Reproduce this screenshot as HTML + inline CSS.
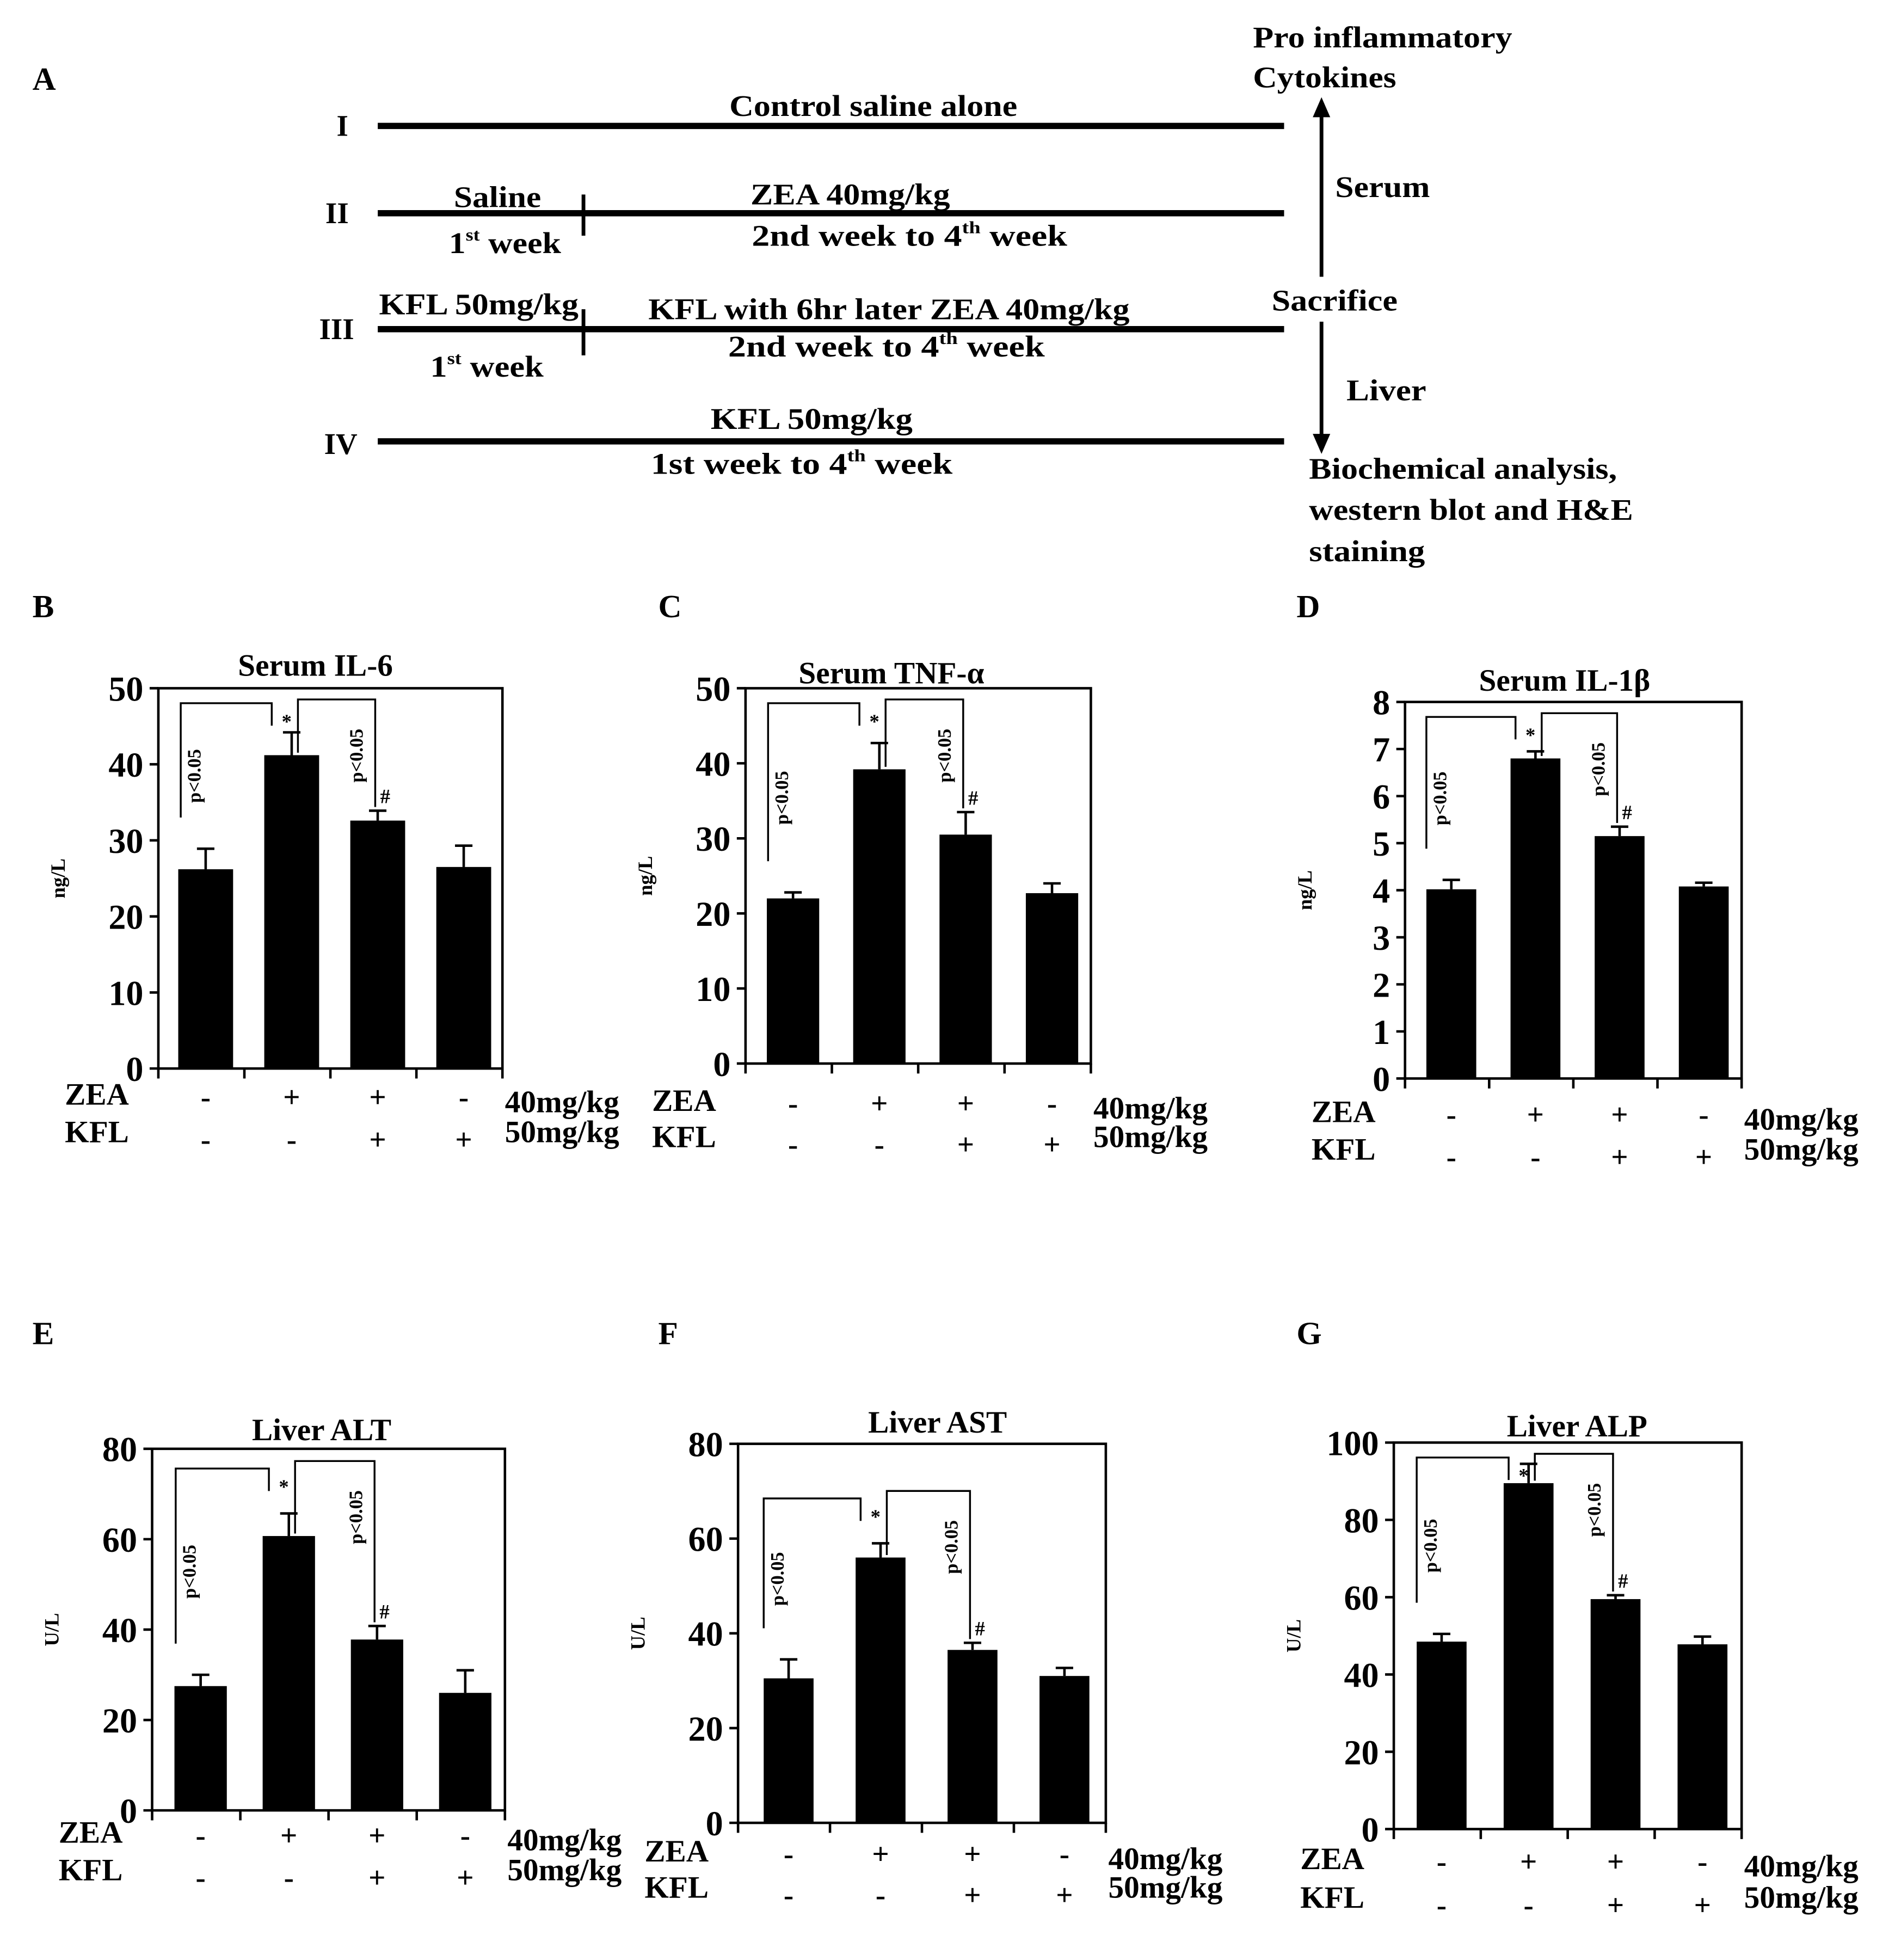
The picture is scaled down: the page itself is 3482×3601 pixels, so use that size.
<!DOCTYPE html>
<html><head><meta charset="utf-8"><style>
html,body{margin:0;padding:0;background:#fff}
svg{display:block}
text{font-family:"Liberation Serif",serif;font-weight:bold;fill:#000}
</style></head><body>
<svg id="fig" xmlns="http://www.w3.org/2000/svg" width="3482" height="3601" viewBox="0 0 1520 1572">
<g id="panelA">
<text x="26" y="72" font-size="26">A</text>
<g stroke="#000" stroke-width="5">
<line x1="303" y1="101" x2="1030" y2="101"/>
<line x1="303" y1="171" x2="1030" y2="171"/>
<line x1="303" y1="264" x2="1030" y2="264"/>
<line x1="303" y1="354" x2="1030" y2="354"/>
</g>
<g stroke="#000" stroke-width="3">
<line x1="468" y1="156" x2="468" y2="189"/>
<line x1="468" y1="248" x2="468" y2="285"/>
<line x1="1060" y1="90" x2="1060" y2="222"/>
<line x1="1060" y1="258" x2="1060" y2="352"/>
</g>
<polygon points="1060,78 1053,94 1067,94"/>
<polygon points="1060,364 1053,348 1067,348"/>
<g font-size="24">
<text x="270" y="109">I</text>
<text x="261" y="179">II</text>
<text x="256" y="272">III</text>
<text x="260" y="364">IV</text>
<text x="585" y="93" textLength="231" lengthAdjust="spacingAndGlyphs">Control saline alone</text>
<text x="364" y="166" textLength="70" lengthAdjust="spacingAndGlyphs">Saline</text>
<text x="360" y="203" textLength="90" lengthAdjust="spacingAndGlyphs">1<tspan font-size="14" dy="-10">st</tspan><tspan dy="10"> week</tspan></text>
<text x="602" y="164" textLength="160" lengthAdjust="spacingAndGlyphs">ZEA 40mg/kg</text>
<text x="603" y="197" textLength="253" lengthAdjust="spacingAndGlyphs">2nd week  to 4<tspan font-size="14" dy="-10">th</tspan><tspan dy="10">  week</tspan></text>
<text x="304" y="252" textLength="160" lengthAdjust="spacingAndGlyphs">KFL 50mg/kg</text>
<text x="520" y="256" textLength="386" lengthAdjust="spacingAndGlyphs">KFL with 6hr later ZEA 40mg/kg</text>
<text x="584" y="286" textLength="254" lengthAdjust="spacingAndGlyphs">2nd week  to 4<tspan font-size="14" dy="-10">th</tspan><tspan dy="10">  week</tspan></text>
<text x="345" y="302" textLength="91" lengthAdjust="spacingAndGlyphs">1<tspan font-size="14" dy="-10">st</tspan><tspan dy="10"> week</tspan></text>
<text x="570" y="344" textLength="162" lengthAdjust="spacingAndGlyphs">KFL 50mg/kg</text>
<text x="522" y="380" textLength="242" lengthAdjust="spacingAndGlyphs">1st week  to 4<tspan font-size="14" dy="-10">th</tspan><tspan dy="10">  week</tspan></text>
<text x="1005" y="38" textLength="208" lengthAdjust="spacingAndGlyphs">Pro inflammatory</text>
<text x="1005" y="70" textLength="115" lengthAdjust="spacingAndGlyphs">Cytokines</text>
<text x="1071" y="158" textLength="76" lengthAdjust="spacingAndGlyphs">Serum</text>
<text x="1020" y="249" textLength="101" lengthAdjust="spacingAndGlyphs">Sacrifice</text>
<text x="1080" y="321" textLength="64" lengthAdjust="spacingAndGlyphs">Liver</text>
<text x="1050" y="384" textLength="247" lengthAdjust="spacingAndGlyphs">Biochemical analysis,</text>
<text x="1050" y="417" textLength="260" lengthAdjust="spacingAndGlyphs">western blot and H&amp;E</text>
<text x="1050" y="450" textLength="93" lengthAdjust="spacingAndGlyphs">staining</text>
</g>
</g>
<g id="charts"></g>
</svg>
<script>
const groups = ['control', 'zea', 'zea-kfl', 'kfl'];
const zeaSigns = ['-', '+', '+', '-'];
const kflSigns = ['-', '-', '+', '+'];
const il6Values = [26.2, 41.2, 32.6, 26.5];
const il6Errors = [2.7, 3.0, 1.3, 2.8];
const tnfValues = [22.0, 39.2, 30.5, 22.7];
const tnfErrors = [0.8, 3.5, 3.0, 1.3];
const il1bValues = [4.02, 6.8, 5.15, 4.08];
const il1bErrors = [0.2, 0.15, 0.2, 0.08];
const altValues = [27.5, 60.7, 37.8, 26.0];
const altErrors = [2.5, 5.0, 3.0, 5.0];
const astValues = [30.5, 56.0, 36.5, 31.0];
const astErrors = [4.0, 3.0, 1.5, 1.7];
const alpValues = [48.5, 89.5, 59.5, 47.8];
const alpErrors = [2.0, 5.0, 1.0, 2.0];
const il6Ticks = [0, 10, 20, 30, 40, 50];
const tnfTicks = [0, 10, 20, 30, 40, 50];
const il1bTicks = [0, 1, 2, 3, 4, 5, 6, 7, 8];
const altTicks = [0, 20, 40, 60, 80];
const astTicks = [0, 20, 40, 60, 80];
const alpTicks = [0, 20, 40, 60, 80, 100];

const NS = 'http://www.w3.org/2000/svg';
function mk(tag, attrs, parent, txt) {
  const e = document.createElementNS(NS, tag);
  for (const k in attrs) e.setAttribute(k, attrs[k]);
  if (txt !== undefined) e.textContent = txt;
  parent.appendChild(e);
  return e;
}
const panels = [
  {id:'b', label:'B', lx:26, ly:495, title:'Serum IL-6', tx:253, ty:542, yl:'ng/L', x0:127, x1:403, yt:552, yb:857, vals:il6Values, errs:il6Errors, ticks:il6Ticks, zy:888, ky:922, bw:44},
  {id:'c', label:'C', lx:528, ly:495, title:'Serum TNF-α', tx:715, ty:548, yl:'ng/L', x0:598, x1:875, yt:552, yb:853, vals:tnfValues, errs:tnfErrors, ticks:tnfTicks, zy:893, ky:926, bw:42},
  {id:'d', label:'D', lx:1040, ly:495, title:'Serum IL-1β', tx:1255, ty:554, yl:'ng/L', x0:1127, x1:1397, yt:563, yb:865, vals:il1bValues, errs:il1bErrors, ticks:il1bTicks, zy:902, ky:936, bw:40},
  {id:'e', label:'E', lx:26, ly:1078, title:'Liver ALT', tx:258, ty:1155, yl:'U/L', x0:122, x1:405, yt:1162, yb:1452, vals:altValues, errs:altErrors, ticks:altTicks, zy:1480, ky:1514, bw:42},
  {id:'f', label:'F', lx:528, ly:1078, title:'Liver AST', tx:752, ty:1149, yl:'U/L', x0:592, x1:887, yt:1158, yb:1462, vals:astValues, errs:astErrors, ticks:astTicks, zy:1495, ky:1528, bw:40},
  {id:'g', label:'G', lx:1040, ly:1078, title:'Liver ALP', tx:1265, ty:1152, yl:'U/L', x0:1118, x1:1397, yt:1157, yb:1467, vals:alpValues, errs:alpErrors, ticks:alpTicks, zy:1501, ky:1536, bw:40}
];
const root = document.getElementById('charts');
panels.forEach(p => {
  const g = mk('g', {}, root);
  
  
  const maxV = p.ticks[p.ticks.length - 1];
  const y = v => p.yb - (v / maxV) * (p.yb - p.yt);
  const step = (p.x1 - p.x0) / groups.length;
  const xc = i => p.x0 + step * (i + 0.55);
  const lab = mk('text', {x:p.lx, y:p.ly, 'font-size':26}, g, p.label);
  
  
  const t = mk('text', {x:p.tx, y:p.ty, 'font-size':25, 'text-anchor':'middle'}, g, p.title);
  
  
  const fr = mk('rect', {x:p.x0, y:p.yt, width:p.x1 - p.x0, height:p.yb - p.yt, fill:'none', stroke:'#000', 'stroke-width':2}, g);
  
  
  p.ticks.forEach(tv => {
    mk('line', {x1:p.x0 - 7, x2:p.x0, y1:y(tv), y2:y(tv), stroke:'#000', 'stroke-width':2}, g);
    const tl = mk('text', {x:p.x0 - 12, y:y(tv) + 10, 'font-size':28, 'text-anchor':'end'}, g, String(tv));
    
    
  });
  for (let i = 0; i <= groups.length; i++) {
    mk('line', {x1:p.x0 + step * i, x2:p.x0 + step * i, y1:p.yb, y2:p.yb + 8, stroke:'#000', 'stroke-width':2}, g);
  }
  const yt = mk('text', {x:0, y:0, 'font-size':16, 'text-anchor':'middle', transform:'translate(' + (p.x0 - 75) + ',' + ((p.yt + p.yb) / 2) + ') rotate(-90)'}, g, p.yl);
  
  
  p.vals.forEach((v, i) => {
    const cx = xc(i);
    const b = mk('rect', {x:cx - p.bw / 2, y:y(v), width:p.bw, height:p.yb - y(v), fill:'#000'}, g);
    
    
    const et = y(v + p.errs[i]);
    const eb = mk('path', {d:'M' + cx + ' ' + y(v) + 'V' + et + 'M' + (cx - 7) + ' ' + et + 'H' + (cx + 7), stroke:'#000', 'stroke-width':2, fill:'none'}, g);
    
    
    const zs = mk('text', {x:cx, y:p.zy, 'font-size':24, 'text-anchor':'middle'}, g, zeaSigns[i]);
    
    
    const ks = mk('text', {x:cx, y:p.ky, 'font-size':24, 'text-anchor':'middle'}, g, kflSigns[i]);
    
    
  });
  const z = mk('text', {x:p.x0 - 75, y:p.zy - 2, 'font-size':25}, g, 'ZEA');
  
  
  const k = mk('text', {x:p.x0 - 75, y:p.ky - 6, 'font-size':25}, g, 'KFL');
  
  
  const zd = mk('text', {x:p.x1 + 2, y:p.zy + 4, 'font-size':25}, g, '40mg/kg');
  
  
  const kd = mk('text', {x:p.x1 + 2, y:p.ky - 6, 'font-size':25}, g, '50mg/kg');
  
  
  // significance brackets (kept inside plot frame)
  const top1 = Math.max(y(p.vals[1] + p.errs[1]) - 36, p.yt + 12);
  const top2 = Math.max(y(p.vals[1] + p.errs[1]) - 42, p.yt + 9);
  const b1x = xc(0) - 20, b2x = xc(1) - 16;
  const br1 = mk('path', {d:'M' + b1x + ' ' + (y(p.vals[0] + p.errs[0]) - 25) + 'V' + top1 + 'H' + b2x + 'V' + (top1 + 18), stroke:'#000', 'stroke-width':1.5, fill:'none'}, g);
  
  
  const b3x = xc(1) + 5, b4x = xc(2) - 2;
  const br2 = mk('path', {d:'M' + b3x + ' ' + (y(p.vals[1]) - 2) + 'V' + top2 + 'H' + b4x + 'V' + (y(p.vals[2] + p.errs[2]) - 3), stroke:'#000', 'stroke-width':1.5, fill:'none'}, g);
  
  
  const s1 = mk('text', {x:xc(1) - 4, y:top1 + 20, 'font-size':16, 'text-anchor':'middle'}, g, '*');
  
  
  const s2 = mk('text', {x:xc(2) + 6, y:y(p.vals[2] + p.errs[2]) - 6, 'font-size':16, 'text-anchor':'middle'}, g, '#');
  
  
  const p1 = mk('text', {x:0, y:0, 'font-size':15, 'text-anchor':'middle', transform:'translate(' + (b1x + 16) + ',' + ((top1 + y(p.vals[0] + p.errs[0])) / 2) + ') rotate(-90)'}, g, 'p<0.05');
  
  
  const p2 = mk('text', {x:0, y:0, 'font-size':15, 'text-anchor':'middle', transform:'translate(' + (b4x - 10) + ',' + (top2 + 45) + ') rotate(-90)'}, g, 'p<0.05');
  
  
});
</script>
</body></html>
